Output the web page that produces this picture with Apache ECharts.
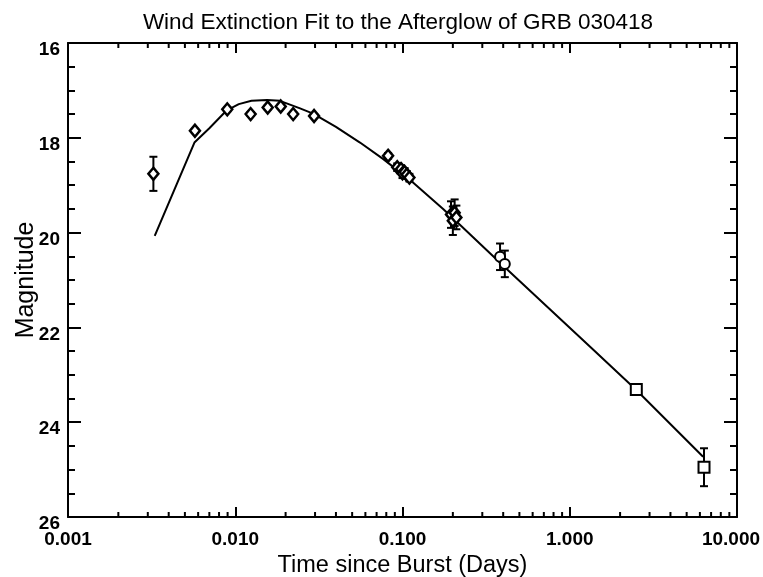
<!DOCTYPE html>
<html>
<head>
<meta charset="utf-8">
<script src="https://cdn.jsdelivr.net/npm/echarts@6/dist/echarts.min.js"></script>
<style>html,body{margin:0;padding:0;background:#fff}#c{width:763px;height:577px}</style>
</head>
<body>
<div id="c"></div>
<script>
// ---- data ----
var modelT   = [0.0033, 0.0057, 0.0070, 0.0089, 0.0105, 0.0125, 0.0155, 0.0185, 0.0244, 0.0292, 0.040, 0.0557, 0.0768, 0.116, 0.175, 0.211, 0.40, 1.353, 2.50, 6.27];
var modelMag = [20.07, 18.10, 17.80, 17.42, 17.29, 17.22, 17.20, 17.22, 17.38, 17.49, 17.77, 18.10, 18.45, 18.95, 19.50, 19.77, 20.70, 22.44, 23.32, 24.73];

var diamondT   = [0.00324, 0.00574, 0.00896, 0.01236, 0.01563, 0.0187, 0.0222, 0.0296, 0.082, 0.093, 0.098, 0.100, 0.103, 0.106, 0.110, 0.195, 0.200, 0.205, 0.210];
var diamondMag = [18.76, 17.85, 17.40, 17.50, 17.36, 17.34, 17.50, 17.54, 18.38, 18.62, 18.66, 18.75, 18.72, 18.78, 18.84, 19.62, 19.75, 19.58, 19.68];
var diamondErr = [0.36, 0.04, 0.04, 0.04, 0.04, 0.04, 0.04, 0.04, 0.06, 0.08, 0.08, 0.10, 0.08, 0.08, 0.08, 0.28, 0.30, 0.28, 0.25];

var circleT   = [0.383, 0.409];
var circleMag = [20.51, 20.66];
var circleErr = [0.28, 0.28];

var squareT   = [2.50, 6.35];
var squareMag = [23.31, 24.95];
var squareErr = [0.06, 0.40];

var xTickLabels = {0.001: '0.001', 0.01: '0.010', 0.1: '0.100', 1: '1.000', 10: '10.000'};
var minorMultiples = [2, 3, 4, 5, 6, 7, 8, 9];
var decades = [0.001, 0.01, 0.1, 1];

// ---- build ----
function zip(a, b, c) { return a.map(function (v, i) { return c ? [v, b[i], c[i]] : [v, b[i]]; }); }
var minorTicks = [];
decades.forEach(function (d) { minorMultiples.forEach(function (m) { minorTicks.push([d * m]); }); });

var allErr = zip(diamondT, diamondMag, diamondErr).concat(zip(circleT, circleMag, circleErr), zip(squareT, squareMag, squareErr));

var labelFont = { fontFamily: 'Liberation Sans', fontWeight: 'bold', fontSize: 19, color: '#000' };

var chart = echarts.init(document.getElementById('c'), null, { renderer: 'canvas' });
chart.setOption({
  animation: false,
  backgroundColor: '#fff',
  title: {
    text: 'Wind Extinction Fit to the Afterglow of GRB 030418',
    left: 393, top: 6, textAlign: 'center',
    textStyle: { fontFamily: 'Liberation Sans', fontWeight: 'normal', fontSize: 22.5, color: '#000' }
  },
  grid: { left: 68, right: 26, top: 43, bottom: 60, containLabel: false, outerBoundsMode: 'none' },
  xAxis: [{
    type: 'log', logBase: 10, min: 0.001, max: 10, position: 'bottom',
    name: 'Time since Burst (Days)', nameLocation: 'middle', nameGap: 34,
    nameTextStyle: { fontFamily: 'Liberation Sans', fontSize: 23.5, color: '#000' },
    axisLine: { lineStyle: { color: '#000', width: 2 } },
    axisTick: { inside: true, length: 10, lineStyle: { color: '#000', width: 2 } },
    axisLabel: Object.assign({
      margin: 13,
      formatter: function (v) { var s = xTickLabels[v] || ''; return v >= 10 ? '{r|' + s + '}' : s; },
      rich: { r: Object.assign({ padding: [0, 12, 0, 0] }, labelFont) }
    }, labelFont),
    splitLine: { show: false }
  }, {
    type: 'log', logBase: 10, min: 0.001, max: 10, position: 'top',
    axisLine: { lineStyle: { color: '#000', width: 2 } },
    axisTick: { inside: true, length: 10, lineStyle: { color: '#000', width: 2 } },
    axisLabel: { show: false }, splitLine: { show: false }
  }],
  yAxis: [{
    type: 'value', min: 16, max: 26, interval: 2, inverse: true, position: 'left',
    name: 'Magnitude', nameLocation: 'middle', nameGap: 29, nameRotate: 90, nameMoveOverlap: false,
    nameTextStyle: { fontFamily: 'Liberation Sans', fontSize: 25, color: '#000' },
    axisLine: { show: true, lineStyle: { color: '#000', width: 2 } },
    axisTick: { show: true, inside: true, length: 13, lineStyle: { color: '#000', width: 2 } },
    minorTick: { show: true, splitNumber: 4, length: 7, lineStyle: { color: '#000', width: 2 } },
    axisLabel: Object.assign({ margin: 8, verticalAlign: 'top', lineHeight: 14 }, labelFont),
    splitLine: { show: false }
  }, {
    type: 'value', min: 16, max: 26, interval: 2, inverse: true, position: 'right',
    axisLine: { show: true, lineStyle: { color: '#000', width: 2 } },
    axisTick: { show: true, inside: true, length: 13, lineStyle: { color: '#000', width: 2 } },
    minorTick: { show: true, splitNumber: 4, length: 7, lineStyle: { color: '#000', width: 2 } },
    axisLabel: { show: false }, splitLine: { show: false }
  }],
  series: [
    {
      type: 'custom', name: 'minorX', data: minorTicks, silent: true, clip: false, z: 5,
      renderItem: function (params, api) {
        var t = api.value(0);
        var top = api.coord([t, 16]);
        var bot = api.coord([t, 26]);
        return { type: 'group', children: [
          { type: 'line', shape: { x1: top[0], y1: top[1], x2: top[0], y2: top[1] + 5 }, style: { stroke: '#000', lineWidth: 2 } },
          { type: 'line', shape: { x1: bot[0], y1: bot[1], x2: bot[0], y2: bot[1] - 5 }, style: { stroke: '#000', lineWidth: 2 } }
        ]};
      }
    },
    {
      type: 'line', name: 'model', data: zip(modelT, modelMag), showSymbol: false, smooth: false,
      lineStyle: { color: '#000', width: 2 }, z: 3
    },
    {
      type: 'custom', name: 'errors', data: allErr, silent: true, z: 4,
      renderItem: function (params, api) {
        var x = api.value(0), y = api.value(1), e = api.value(2);
        var p1 = api.coord([x, y - e]);
        var p2 = api.coord([x, y + e]);
        var cw = 4;
        return { type: 'group', children: [
          { type: 'line', shape: { x1: p1[0], y1: p1[1], x2: p2[0], y2: p2[1] }, style: { stroke: '#000', lineWidth: 2 } },
          { type: 'line', shape: { x1: p1[0] - cw, y1: p1[1], x2: p1[0] + cw, y2: p1[1] }, style: { stroke: '#000', lineWidth: 2 } },
          { type: 'line', shape: { x1: p2[0] - cw, y1: p2[1], x2: p2[0] + cw, y2: p2[1] }, style: { stroke: '#000', lineWidth: 2 } }
        ]};
      }
    },
    {
      type: 'scatter', name: 'diamonds', data: zip(diamondT, diamondMag), symbol: 'diamond', symbolSize: [10, 12], z: 6,
      itemStyle: { color: '#fff', borderColor: '#000', borderWidth: 2.5, opacity: 1 }
    },
    {
      type: 'scatter', name: 'circles', data: zip(circleT, circleMag), symbol: 'circle', symbolSize: 10, z: 6,
      itemStyle: { color: '#fff', borderColor: '#000', borderWidth: 2, opacity: 1 }
    },
    {
      type: 'scatter', name: 'squares', data: zip(squareT, squareMag), symbol: 'rect', symbolSize: 11, z: 6,
      itemStyle: { color: '#fff', borderColor: '#000', borderWidth: 2, opacity: 1 }
    }
  ]
});
</script>
</body>
</html>
